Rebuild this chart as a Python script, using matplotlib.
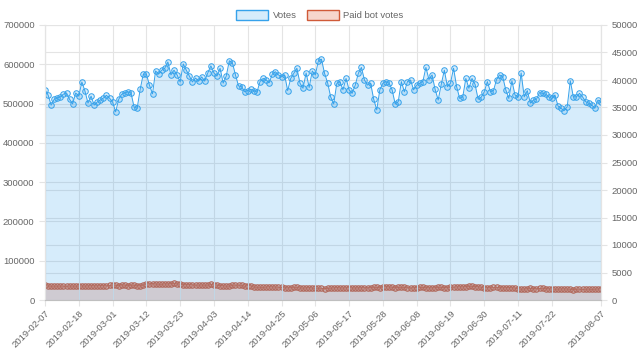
import numpy as np
import pandas as pd
import matplotlib
matplotlib.use("Agg")
import matplotlib.pyplot as plt
from matplotlib.patches import Patch

plt.rcParams['font.family'] = ['Liberation Sans', 'DejaVu Sans']

# ---- data ----
dates = pd.date_range('2019-02-07', '2019-08-07').strftime('%Y-%m-%d').tolist()

votes_k = [
    535, 522, 496, 511, 514, 517, 524, 527, 511, 499,
    527, 519, 555, 532, 501, 519, 496, 504, 509, 514,
    521, 514, 504, 479, 511, 524, 527, 530, 527, 491,
    488, 537, 575, 575, 547, 525, 583, 575, 585, 590,
    606, 573, 585, 573, 555, 601, 585, 570, 555, 565,
    557, 568, 557, 578, 596, 578, 570, 590, 552, 570,
    609, 604, 573, 545, 543, 530, 533, 536, 533, 529,
    556, 564, 560, 553, 575, 581, 573, 568, 573, 533,
    564, 577, 590, 552, 539, 578, 541, 583, 573, 609,
    613, 577, 553, 517, 499, 552, 556, 535, 564, 535,
    526, 547, 577, 592, 560, 547, 552, 511, 484, 535,
    552, 556, 552, 535, 499, 505, 556, 530, 556, 560,
    535, 547, 552, 556, 592, 561, 573, 536, 509, 549,
    585, 543, 552, 590, 543, 513, 517, 564, 539, 564,
    549, 511, 516, 530, 556, 530, 533, 561, 573, 568,
    535, 513, 558, 522, 517, 578, 517, 533, 501, 509,
    511, 528, 526, 524, 517, 513, 522, 494, 488, 482,
    492, 558, 517, 517, 526, 517, 505, 501, 496, 488,
    509, 505,
]
votes = [v * 1000 for v in votes_k]

paid_bot_votes = [
    2650, 2550, 2500, 2520, 2500, 2530, 2520, 2500, 2540, 2520, 2510,
    2530, 2550, 2520, 2560, 2600, 2580, 2560, 2620, 2600, 2580, 2650,
    2700, 2650, 2620, 2780, 2680, 2600, 2720, 2650, 2600, 2580, 2700,
    2900, 2950, 3000, 2900, 2880, 2850, 2950, 2900, 3000, 3020, 2950,
    2850, 2800, 2780, 2800, 2750, 2720, 2700, 2730, 2680, 2700, 2820,
    2750, 2700, 2620, 2600, 2500, 2520, 2680, 2700, 2720, 2650, 2500,
    2620, 2580, 2350, 2300, 2320, 2280, 2350, 2420, 2380, 2350, 2300,
    2280, 2250, 2200, 2250, 2300, 2280, 2200, 2150, 2200, 2250, 2180,
    2100, 2150, 2120, 2080, 2100, 2150, 2200, 2250, 2200, 2180, 2220,
    2250, 2200, 2180, 2200, 2220, 2250, 2230, 2250, 2300, 2280, 2250,
    2350, 2420, 2380, 2300, 2250, 2280, 2300, 2280, 2250, 2200, 2220,
    2260, 2300, 2280, 2250, 2230, 2200, 2250, 2300, 2280, 2260, 2250,
    2300, 2350, 2380, 2400, 2380, 2450, 2500, 2480, 2450, 2420, 2300,
    2200, 2250, 2230, 2280, 2300, 2250, 2200, 2220, 2250, 2230, 2180,
    2050, 1950, 2000, 2050, 2100, 2080, 2050, 2100, 2120, 2080, 2050,
    2000, 1950, 1980, 2000, 2020, 1980, 1950, 1900, 1950, 1980, 1920,
    1950, 1980, 1920, 1950, 2000, 2050,
]

assert len(votes) == len(dates) == len(paid_bot_votes), (len(votes), len(dates), len(paid_bot_votes))

# ---- style ----
blue = '#36a2eb'
blue_fill = (54/255, 162/255, 235/255, 0.2)
red = '#d05a38'
red_fill = (0.89, 0.47, 0.34, 0.3)
grid_c = '#e4e4e4'
axis_c = '#bfbfbf'
txt_c = '#666666'
fs = 6.8

fig = plt.figure(figsize=(6.4, 3.61), dpi=100)
ax = fig.add_axes([45/640, 61/361, 556/640, 275/361])
ax2 = ax.twinx()
ax.set_zorder(2)
ax2.set_zorder(1)
ax.patch.set_visible(False)

x = np.arange(len(dates))

# paid bot votes (right axis), drawn under votes
ax2.fill_between(x, paid_bot_votes, 0, color=red_fill, lw=0)
ax2.plot(x, paid_bot_votes, color=red, lw=0.7, marker='o', ms=3.9,
         mfc=red_fill, mec=red, mew=0.8)

# votes (left axis)
ax.fill_between(x, votes, 0, color=blue_fill, lw=0)
ax.plot(x, votes, color=blue, lw=0.7, marker='o', ms=4.0,
        mfc=blue_fill, mec=blue, mew=0.7)

ax.set_xlim(0, len(dates) - 1)
ax.set_ylim(0, 700000)
ax2.set_ylim(0, 50000)
ax.set_yticks(np.arange(0, 700001, 100000))
ax2.set_yticks(np.arange(0, 50001, 5000))

tick_idx = list(range(0, len(dates) - 6, 11)) + [len(dates) - 1]
ax.set_xticks(tick_idx)
ax.set_xticklabels([dates[i] for i in tick_idx], rotation=45, ha='right',
                   rotation_mode='anchor')

for a in (ax, ax2):
    for s in a.spines.values():
        s.set_color(grid_c)
        s.set_linewidth(0.8)
    a.spines['top'].set_visible(False)
    a.tick_params(color=grid_c, labelcolor=txt_c, labelsize=fs, length=4, width=0.8)
    a.set_axisbelow(True)
ax.spines['bottom'].set_color(axis_c)
ax.tick_params(axis='x', pad=2)

ax.grid(True, color=grid_c, lw=0.8)
ax2.grid(True, axis='y', color=grid_c, lw=0.8)

handles = [Patch(facecolor=blue_fill, edgecolor=blue, lw=1.0, label='Votes'),
           Patch(facecolor=red_fill, edgecolor=red, lw=1.0, label='Paid bot votes')]
fig.legend(handles=handles, loc='center', bbox_to_anchor=(0.5, 1 - 15/361), ncol=2,
           frameon=False, fontsize=fs, labelcolor=txt_c, handlelength=3.4,
           handleheight=1.4, columnspacing=1.0, handletextpad=0.5)

fig.savefig('out.png', dpi=100)
